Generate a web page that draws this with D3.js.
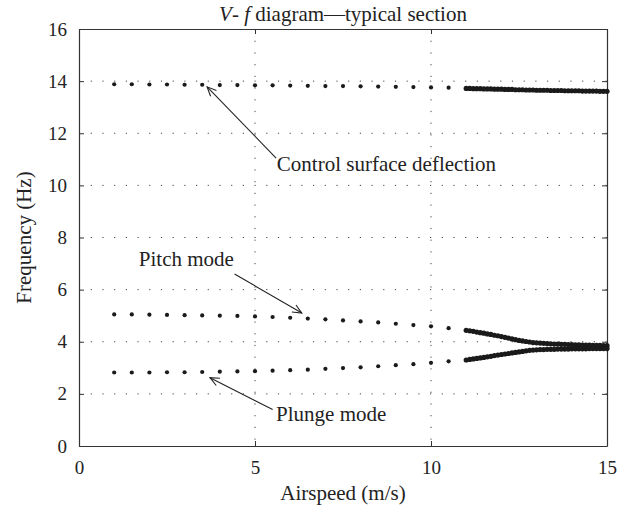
<!DOCTYPE html>
<html>
<head>
<meta charset="utf-8">
<script src="https://cdn.jsdelivr.net/npm/d3@7"></script>
<style>
  body { margin: 0; background: #fff; }
  text { font-family: "Liberation Serif", "DejaVu Serif", serif; fill: #222; }
</style>
</head>
<body>
<div id="vf-chart"></div>
<script>
// sparse samples (1 to 10.5 m/s)
const airspeedLow = [1, 1.5, 2, 2.5, 3, 3.5, 4, 4.5, 5, 5.5, 6, 6.5, 7, 7.5, 8, 8.5, 9, 9.5, 10, 10.5];
const controlLow = [13.88, 13.88, 13.87, 13.87, 13.86, 13.86, 13.85, 13.85, 13.84, 13.84, 13.83, 13.82, 13.81, 13.81, 13.80, 13.79, 13.78, 13.77, 13.76, 13.75];
const pitchLow = [5.05, 5.05, 5.04, 5.03, 5.02, 5.01, 5.00, 4.99, 4.97, 4.95, 4.92, 4.89, 4.86, 4.82, 4.78, 4.74, 4.69, 4.64, 4.59, 4.52];
const plungeLow = [2.82, 2.82, 2.82, 2.83, 2.83, 2.84, 2.85, 2.86, 2.87, 2.89, 2.91, 2.93, 2.96, 2.99, 3.02, 3.06, 3.10, 3.14, 3.19, 3.25];

// dense samples (11 to 15 m/s)
const airspeedHigh = [11.0, 11.1, 11.2, 11.3, 11.4, 11.5, 11.6, 11.7, 11.8, 11.9,
  12.0, 12.1, 12.2, 12.3, 12.4, 12.5, 12.6, 12.7, 12.8, 12.9,
  13.0, 13.1, 13.2, 13.3, 13.4, 13.5, 13.6, 13.7, 13.8, 13.9,
  14.0, 14.1, 14.2, 14.3, 14.4, 14.5, 14.6, 14.7, 14.8, 14.9, 15.0];
const controlHigh = [13.72, 13.72, 13.71, 13.71, 13.71, 13.70, 13.70, 13.70, 13.69, 13.69,
  13.69, 13.68, 13.68, 13.68, 13.67, 13.67, 13.67, 13.66, 13.66, 13.66,
  13.65, 13.65, 13.65, 13.65, 13.64, 13.64, 13.64, 13.64, 13.63, 13.63,
  13.63, 13.63, 13.63, 13.62, 13.62, 13.62, 13.62, 13.62, 13.61, 13.61, 13.61];
const pitchHigh = [4.44, 4.42, 4.40, 4.37, 4.35, 4.33, 4.30, 4.28, 4.25, 4.23,
  4.20, 4.17, 4.14, 4.11, 4.08, 4.05, 4.03, 4.01, 3.99, 3.97,
  3.96, 3.95, 3.94, 3.93, 3.92, 3.91, 3.91, 3.90, 3.90, 3.89,
  3.89, 3.88, 3.88, 3.87, 3.87, 3.87, 3.86, 3.86, 3.86, 3.85, 3.85];
const plungeHigh = [3.30, 3.32, 3.34, 3.36, 3.38, 3.40, 3.42, 3.44, 3.47, 3.49,
  3.51, 3.53, 3.55, 3.57, 3.59, 3.61, 3.63, 3.65, 3.67, 3.68,
  3.69, 3.70, 3.70, 3.71, 3.71, 3.71, 3.72, 3.72, 3.72, 3.72,
  3.73, 3.73, 3.73, 3.73, 3.73, 3.74, 3.74, 3.74, 3.74, 3.74, 3.74];

const xTicks = [0, 5, 10, 15];
const yTicks = [0, 2, 4, 6, 8, 10, 12, 14, 16];

// annotations in data units: label anchor, arrow tail, arrow tip
const notes = [
  {label: "Control surface deflection", tx: 5.62, ty: 10.55, x1: 5.6, y1: 11.05, x2: 3.64, y2: 13.78},
  {label: "Pitch mode", tx: 1.7, ty: 6.9, x1: 4.42, y1: 6.6, x2: 6.33, y2: 5.1},
  {label: "Plunge mode", tx: 5.6, ty: 0.95, x1: 5.5, y1: 1.4, x2: 3.72, y2: 2.62}
];

const margin = {top: 29, right: 31, bottom: 66, left: 79},
    width = 638 - margin.left - margin.right,
    height = 512 - margin.top - margin.bottom;

const root = d3.select("#vf-chart")
    .append("svg")
    .attr("width", 638)
    .attr("height", 512);

const svg = root.append("g")
    .attr("transform", `translate(${margin.left}, ${margin.top})`);

const x = d3.scaleLinear().domain([0, 15]).range([0, width]);
const y = d3.scaleLinear().domain([0, 16]).range([height, 0]);

// dotted grid
svg.append("g")
    .selectAll("line")
    .data(xTicks.slice(1, -1))
    .enter().append("line")
    .attr("x1", d => x(d)).attr("x2", d => x(d))
    .attr("y1", 0).attr("y2", height)
    .attr("stroke", "#444").attr("stroke-width", 1)
    .attr("stroke-dasharray", "1.2,10.5");
svg.append("g")
    .selectAll("line")
    .data(yTicks.slice(1, -1))
    .enter().append("line")
    .attr("y1", d => y(d)).attr("y2", d => y(d))
    .attr("x1", 0).attr("x2", width)
    .attr("stroke", "#444").attr("stroke-width", 1)
    .attr("stroke-dasharray", "1.2,10.5");

// axes (ticks inside, box on all sides)
const tickStyle = g => {
  g.select(".domain").attr("stroke", "#333").attr("stroke-width", 1.2);
  g.selectAll(".tick line").attr("stroke", "#333");
  g.selectAll("text").style("font-size", "19px").attr("fill", "#222");
};
svg.append("g")
    .attr("transform", `translate(0, ${height})`)
    .call(d3.axisBottom(x).tickValues(xTicks).tickSize(-5).tickSizeOuter(0).tickPadding(15))
    .call(tickStyle);
svg.append("g")
    .call(d3.axisLeft(y).tickValues(yTicks).tickSize(-5).tickSizeOuter(0).tickPadding(12))
    .call(tickStyle);
svg.append("g")
    .call(d3.axisTop(x).tickValues(xTicks).tickSize(-5).tickSizeOuter(0).tickFormat(""))
    .call(tickStyle);
svg.append("g")
    .attr("transform", `translate(${width}, 0)`)
    .call(d3.axisRight(y).tickValues(yTicks).tickSize(-5).tickSizeOuter(0).tickFormat(""))
    .call(tickStyle);

// points
const series = [
  {xs: airspeedLow, ys: controlLow, r: 2.1},
  {xs: airspeedLow, ys: pitchLow, r: 2.1},
  {xs: airspeedLow, ys: plungeLow, r: 2.1},
  {xs: airspeedHigh, ys: controlHigh, r: 2.6},
  {xs: airspeedHigh, ys: pitchHigh, r: 2.6},
  {xs: airspeedHigh, ys: plungeHigh, r: 2.6}
];
series.forEach(s => {
  svg.append("g")
    .selectAll("circle")
    .data(s.ys)
    .enter().append("circle")
    .attr("cx", (d, i) => x(s.xs[i]))
    .attr("cy", d => y(d))
    .attr("r", s.r)
    .attr("fill", "#1a1a1a");
});

// arrows with open heads
const notesG = svg.append("g");
notes.forEach(n => {
  const X1 = x(n.x1), Y1 = y(n.y1), X2 = x(n.x2), Y2 = y(n.y2);
  const ang = Math.atan2(Y2 - Y1, X2 - X1);
  const len = 10, spread = 0.42;
  notesG.append("line")
    .attr("x1", X1).attr("y1", Y1).attr("x2", X2).attr("y2", Y2)
    .attr("stroke", "#222").attr("stroke-width", 1.1);
  notesG.append("path")
    .attr("d", `M${X2 - len * Math.cos(ang - spread)},${Y2 - len * Math.sin(ang - spread)}L${X2},${Y2}L${X2 - len * Math.cos(ang + spread)},${Y2 - len * Math.sin(ang + spread)}`)
    .attr("fill", "none").attr("stroke", "#222").attr("stroke-width", 1.1);
  notesG.append("text")
    .attr("x", x(n.tx)).attr("y", y(n.ty))
    .style("font-size", "21px")
    .text(n.label);
});

// labels
root.append("text")
    .attr("x", margin.left + width / 2).attr("y", 500)
    .attr("text-anchor", "middle")
    .style("font-size", "21px")
    .text("Airspeed (m/s)");
root.append("text")
    .attr("transform", `translate(31, ${margin.top + height / 2}) rotate(-90)`)
    .attr("text-anchor", "middle")
    .style("font-size", "21px")
    .text("Frequency (Hz)");

const title = root.append("text")
    .attr("x", margin.left + width / 2).attr("y", 21)
    .attr("text-anchor", "middle")
    .style("font-size", "21px");
title.append("tspan").style("font-style", "italic").text("V");
title.append("tspan").text("- ");
title.append("tspan").style("font-style", "italic").text("f");
title.append("tspan").text(" diagram\u2014typical section");
</script>
</body>
</html>
